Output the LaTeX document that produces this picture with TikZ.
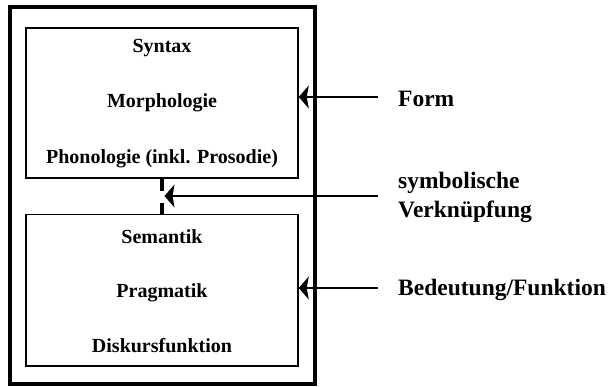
\documentclass[tikz,border=0pt]{standalone}
\usepackage{fontspec}
\setmainfont{Liberation Serif}
\usetikzlibrary{arrows.meta}

\begin{document}
\begin{tikzpicture}[x=1pt,y=-1pt,
  layerbox/.style={draw,line width=1.5pt,minimum width=272pt,inner sep=0},
  lefttext/.style={anchor=base,font=\fontsize{20}{24}\selectfont\bfseries},
  righttext/.style={anchor=base west,inner sep=0,font=\fontsize{23.5}{28}\selectfont\bfseries},
  pointer/.style={line width=1.6pt,-{Stealth[length=10pt,width=23pt,inset=2pt]}},
  link/.style={line width=3.5pt,dash pattern=on 12pt off 12pt}]
\useasboundingbox (0,0) rectangle (612,386);
\node[draw,line width=4pt,minimum width=305.5pt,minimum height=377pt] (frame) at (162.25,195.5) {};
\node[layerbox,minimum height=150pt] (form) at (162,103) {};
\node[layerbox,minimum height=151.5pt] (meaning) at (162,290.25) {};
  \foreach \txt/\ypos [count=\i] in {Syntax/52,Morphologie/107,{Phonologie (inkl. Prosodie)}/163,
    Semantik/243,Pragmatik/297,Diskursfunktion/352}
  {  \node [lefttext] (layer\i) at (162,\ypos) {\txt};}
\draw[link] (form.south) -- (meaning.north);
% arrows from the right
\coordinate (formtail) at (378,97);
\coordinate (linktail) at (378,196);
\coordinate (linkhead) at (164.5,196);
\coordinate (meantail) at (378,288);
\draw[pointer] (formtail) -- (formtail -| form.east);
\draw[pointer] (linktail) -- (linkhead);
\draw[pointer] (meantail) -- (meantail -| meaning.east);
\node[righttext] (formlbl) at (398,106) {Form};
\node[righttext] (linklbl) at (398,188) {symbolische};
\node[righttext] (linklbl2) at (398,217) {Verknüpfung};
\node[righttext] (meanlbl) at (398,295) {Bedeutung/Funktion};
\end{tikzpicture}
\end{document}
